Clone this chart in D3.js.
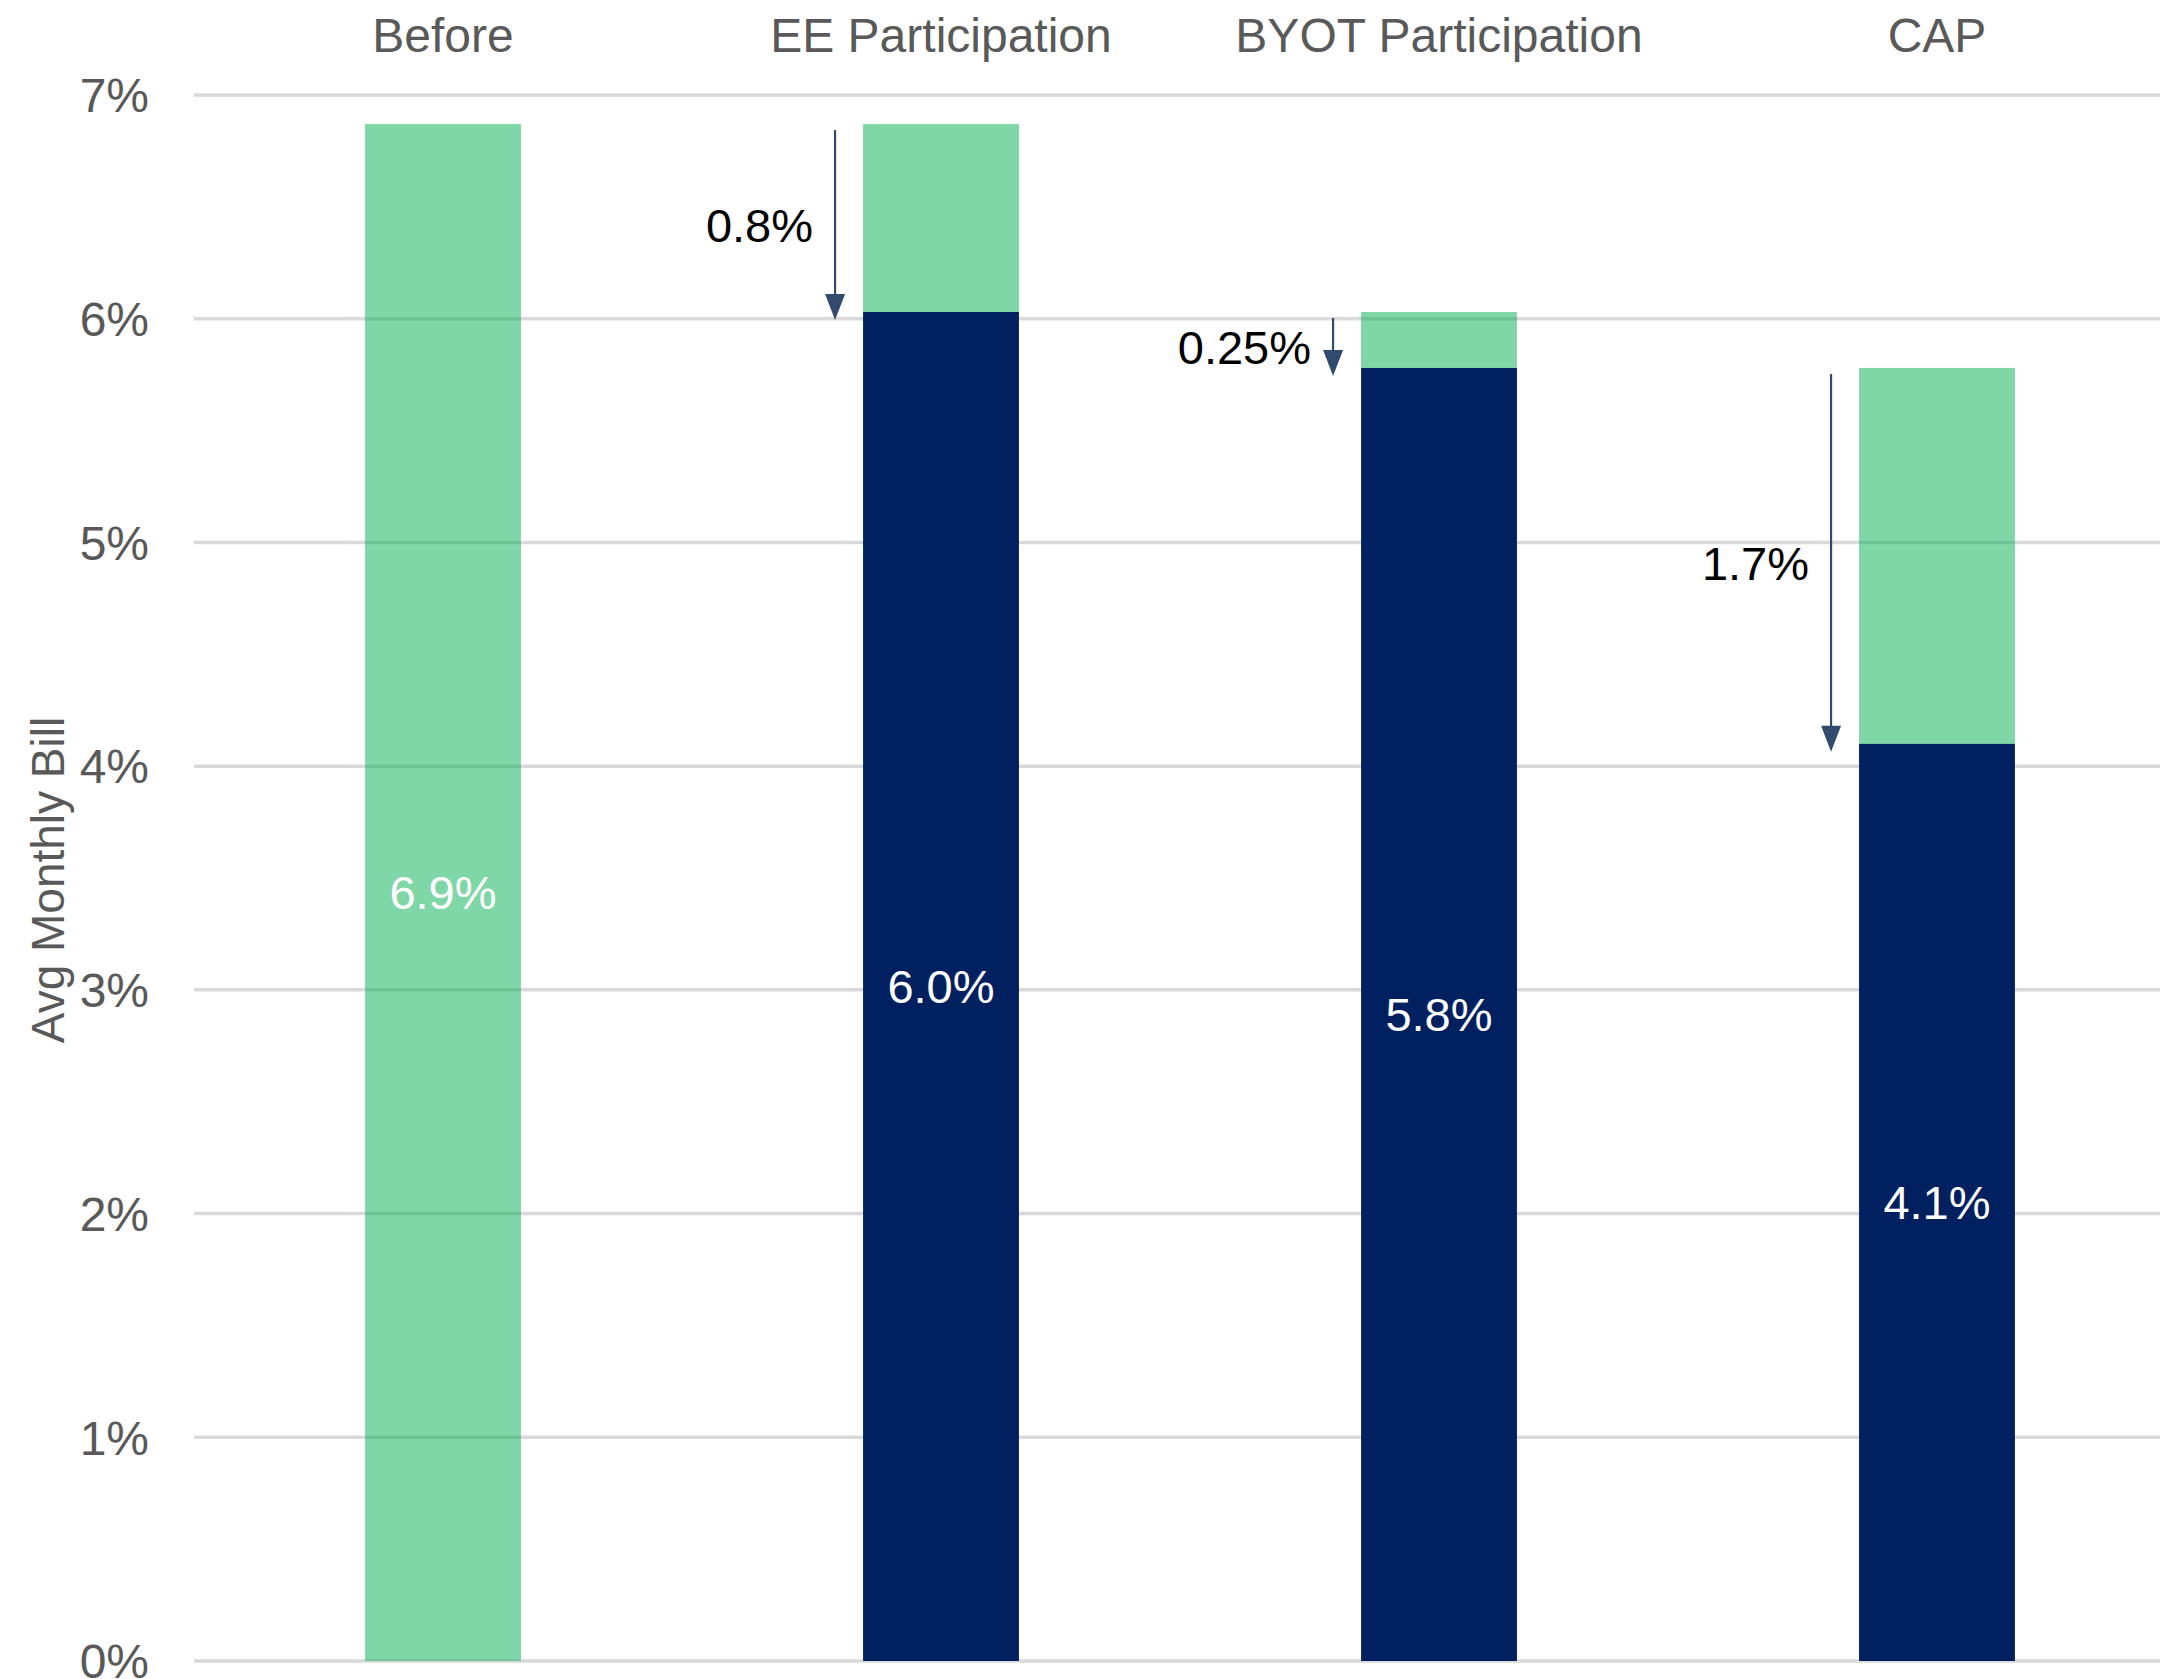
<!DOCTYPE html>
<html>
<head>
<meta charset="utf-8">
<script src="https://cdn.jsdelivr.net/npm/d3@7"></script>
<style>
  html, body { margin: 0; padding: 0; background: #fff; }
  svg { display: block; font-family: "Liberation Sans", Arial, Helvetica, sans-serif; }
</style>
</head>
<body>
<div id="chart"></div>
<script>
"use strict";

// ---------------------------------------------------------------------------
// Data
// ---------------------------------------------------------------------------

const categories = ["Before", "EE Participation", "BYOT Participation", "CAP"];
// level before this step (top of green part)
const startValues = [6.87, 6.87, 6.03, 5.78];
// level after this step (navy part), null for the baseline bar
const afterValues = [null, 6.03, 5.78, 4.10];
const valueLabels = ["6.9%", "6.0%", "5.8%", "4.1%"];
const dropLabels = [null, "0.8%", "0.25%", "1.7%"];
const yTicks = [0, 1, 2, 3, 4, 5, 6, 7];

// ---------------------------------------------------------------------------
// Layout
// ---------------------------------------------------------------------------

const width = 2160;
const height = 1679;
const GREY = "#595959";
const GREEN = "#00b050";
const NAVY = "#002060";
const ARROW = "#324a6d";

const svg = d3.select("#chart")
  .append("svg")
  .attr("width", width)
  .attr("height", height);

const x = d3.scaleBand()
  .domain(categories)
  .range([194, 2186])
  .paddingInner(0.687)
  .paddingOuter(0.3435);

const y = d3.scaleLinear()
  .domain([0, 7])
  .range([1661, 95]);

// gridlines
svg.append("g")
  .selectAll("line")
  .data(yTicks)
  .join("line")
  .attr("x1", 194)
  .attr("x2", width)
  .attr("y1", (d) => y(d))
  .attr("y2", (d) => y(d))
  .attr("stroke", "#d9d9d9")
  .attr("stroke-width", 3.5);

// tick labels
svg.append("g")
  .selectAll("text")
  .data(yTicks)
  .join("text")
  .attr("x", 149)
  .attr("y", (d) => y(d))
  .attr("dy", "0.36em")
  .attr("text-anchor", "end")
  .attr("fill", GREY)
  .attr("font-size", "48px")
  .text((d) => d + "%");

// axis title
svg.append("text")
  .attr("transform", `translate(48,${(y(0) + y(7)) / 2 + 2}) rotate(-90)`)
  .attr("dy", "0.35em")
  .attr("text-anchor", "middle")
  .attr("fill", GREY)
  .attr("font-size", "46px")
  .text("Avg Monthly Bill");

// category labels on top
svg.append("g")
  .selectAll("text")
  .data(categories)
  .join("text")
  .attr("x", (d) => x(d) + x.bandwidth() / 2)
  .attr("y", 52)
  .attr("text-anchor", "middle")
  .attr("fill", GREY)
  .attr("font-size", "48px")
  .text((d) => d);

const rows = categories.map((c, i) => ({
  cat: c,
  start: startValues[i],
  after: afterValues[i],
  label: valueLabels[i],
  drop: dropLabels[i],
}));

// navy (after) part
svg.append("g")
  .selectAll("rect")
  .data(rows.filter((r) => r.after != null))
  .join("rect")
  .attr("x", (d) => x(d.cat))
  .attr("width", x.bandwidth())
  .attr("y", (d) => y(d.after))
  .attr("height", (d) => y(0) - y(d.after))
  .attr("fill", NAVY);

// green (reduction / before) part, semi transparent like the original
svg.append("g")
  .selectAll("rect")
  .data(rows)
  .join("rect")
  .attr("x", (d) => x(d.cat))
  .attr("width", x.bandwidth())
  .attr("y", (d) => y(d.start))
  .attr("height", (d) => y(d.after == null ? 0 : d.after) - y(d.start))
  .attr("fill", GREEN)
  .attr("fill-opacity", 0.5);

// value labels in the middle of the bottom part
svg.append("g")
  .selectAll("text")
  .data(rows)
  .join("text")
  .attr("x", (d) => x(d.cat) + x.bandwidth() / 2)
  .attr("y", (d) => y((d.after == null ? d.start : d.after) / 2))
  .attr("dy", "0.36em")
  .attr("text-anchor", "middle")
  .attr("fill", "#fff")
  .attr("font-size", "47px")
  .text((d) => d.label);

// drop arrows
svg.append("defs")
  .append("marker")
  .attr("id", "arrowhead")
  .attr("viewBox", "0 0 10 12")
  .attr("refX", 5)
  .attr("refY", 12)
  .attr("markerWidth", 10)
  .attr("markerHeight", 12)
  .attr("markerUnits", "userSpaceOnUse")
  .attr("orient", "auto-start-reverse")
  .append("path")
  .attr("d", "M0,0 L10,0 L5,12 Z")
  .attr("fill", ARROW);

const drops = rows.filter((r) => r.drop != null);
const arrowX = (d) => x(d.cat) - 28;

svg.append("g")
  .selectAll("g")
  .data(drops)
  .join("g")
  .each(function (d) {
    const g = d3.select(this);
    const y1 = y(d.start) + 6;
    const y2 = y(d.after) + 8;
    g.append("line")
      .attr("x1", arrowX(d))
      .attr("x2", arrowX(d))
      .attr("y1", y1)
      .attr("y2", y2 - 24)
      .attr("stroke", ARROW)
      .attr("stroke-width", 2.2);
    g.append("path")
      .attr("d", `M${arrowX(d) - 10},${y2 - 26} L${arrowX(d) + 10},${y2 - 26} L${arrowX(d)},${y2} Z`)
      .attr("fill", ARROW);
    g.append("text")
      .attr("x", arrowX(d) - 22)
      .attr("y", (y1 + y2) / 2)
      .attr("dy", "0.36em")
      .attr("text-anchor", "end")
      .attr("fill", "#000")
      .attr("font-size", "47px")
      .text(d.drop);
  });
</script>
</body>
</html>
